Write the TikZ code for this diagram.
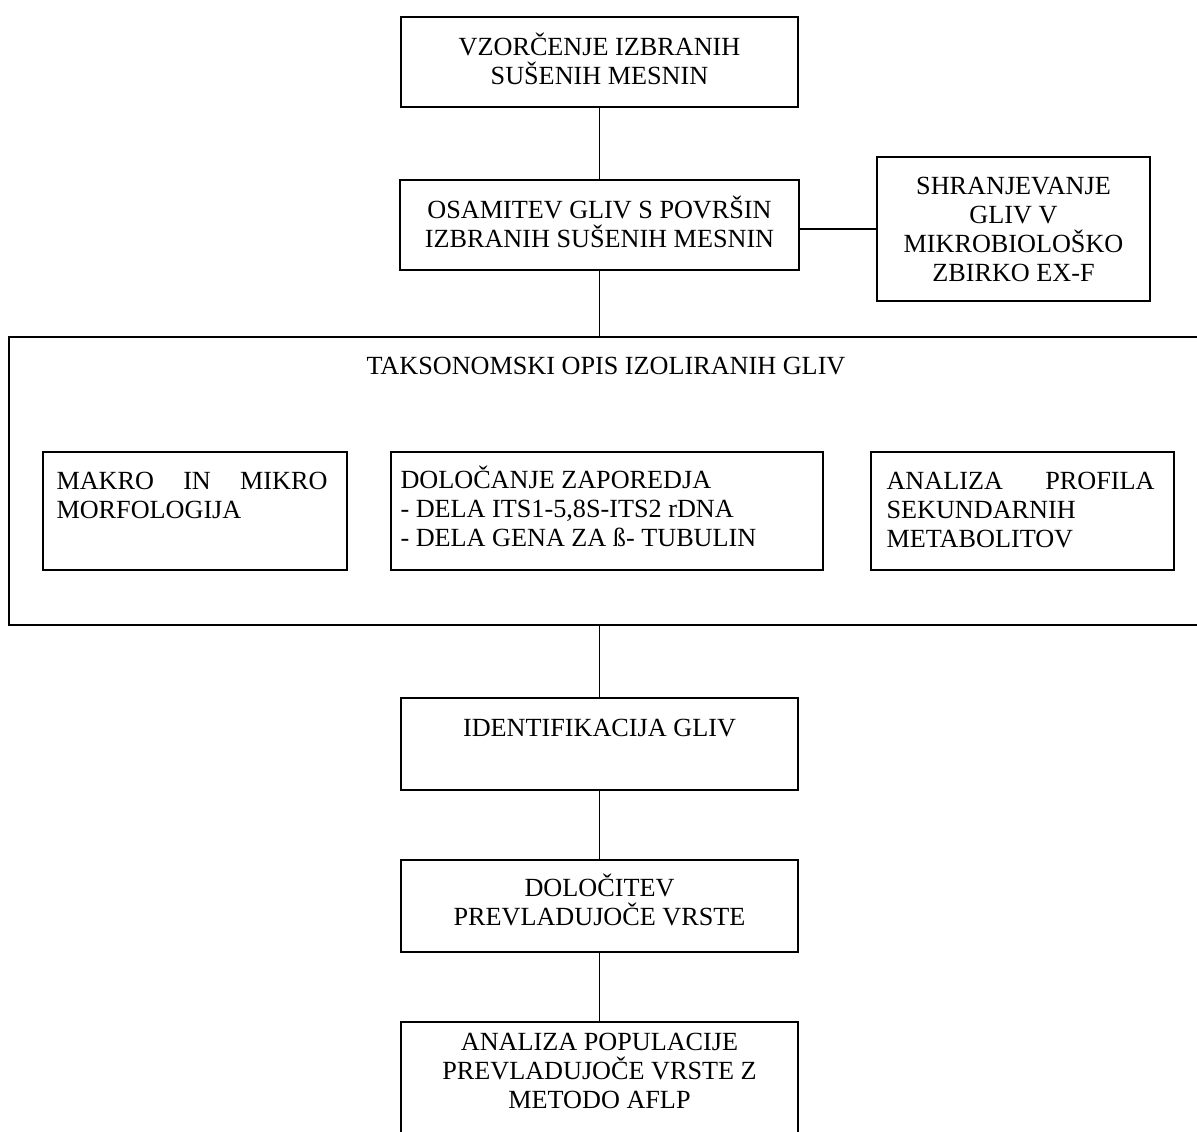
\documentclass[tikz,border=0pt]{standalone}
\usepackage{fontspec}
\setmainfont{Liberation Serif}
\usetikzlibrary{positioning}
\hyphenpenalty=10000

\begin{document}
\begin{tikzpicture}[x=0.5pt,y=-0.5pt,
  box/.style={draw, line width=0.9pt, inner sep=0pt},
  txt/.style={inner sep=0pt, font=\fontsize{13.1}{14.5}\selectfont, execute at begin node={\rule{0pt}{12pt}}}]
\useasboundingbox (0,0) rectangle (1197,1131);

%Shape: Rectangle [vzor]
\node[box, minimum width=198.5pt, minimum height=45pt] (vzor) at (599.5,62) {};
%Shape: Rectangle [osam]
\node[box, minimum width=199.5pt, minimum height=45pt] (osam) at (599.5,225) {};
%Shape: Rectangle [shran]
\node[box, minimum width=136.5pt, minimum height=72pt] (shran) at (1013.5,229) {};
%Shape: Rectangle [takso]
\node[box, minimum width=597pt, minimum height=144pt] (takso) at (606,481) {};
%Shape: Rectangle [makro]
\node[box, minimum width=152pt, minimum height=59pt] (makro) at (195,511) {};
%Shape: Rectangle [zapor]
\node[box, minimum width=216pt, minimum height=59pt] (zapor) at (607,511) {};
%Shape: Rectangle [profil]
\node[box, minimum width=151.5pt, minimum height=59pt] (profil) at (1022.5,511) {};
%Shape: Rectangle [ident]
\node[box, minimum width=198.5pt, minimum height=46pt] (ident) at (599.5,744) {};
%Shape: Rectangle [vrsta]
\node[box, minimum width=198.5pt, minimum height=46pt] (vrsta) at (599.5,906) {};
%Shape: Rectangle [popul]
\node[box, minimum width=198.5pt, minimum height=69pt] (popul) at (599.5,1091) {};

%Straight Lines
\draw[line width=0.9pt] (vzor) -- (osam);
\draw[line width=0.9pt] (osam) -- (osam |- takso.north);
\draw[line width=0.9pt] (shran.west) -- (shran.west -| osam.east);
\draw[line width=0.9pt] (ident |- takso.south) -- (ident);
\draw[line width=0.9pt] (ident) -- (vrsta);
\draw[line width=0.9pt] (vrsta) -- (popul);

% Text Node
\node[txt, align=center, below=8pt of vzor.north] (tvzor) {VZORČENJE IZBRANIH\\SUŠENIH MESNIN};
% Text Node
\node[txt, align=center, below=8pt of osam.north] (tosam) {OSAMITEV GLIV S POVRŠIN\\IZBRANIH SUŠENIH MESNIN};
% Text Node
\node[txt, align=center, below=10.5pt of shran.north] (tshran) {SHRANJEVANJE\\GLIV V\\MIKROBIOLOŠKO\\ZBIRKO EX-F};
% Text Node
\node[txt, align=center, below=7pt of takso.north] (ttakso) {TAKSONOMSKI OPIS IZOLIRANIH GLIV};
% Text Node
\node[txt, text width=135.5pt, align=justify, below right=7pt and 7pt of makro.north west] (tmakro) {MAKRO IN MIKRO MORFOLOGIJA};
% Text Node
\node[txt, align=left, below right=7pt and 5pt of zapor.north west] (tzapor) {DOLOČANJE ZAPOREDJA\\- DELA ITS1-5,8S-ITS2 rDNA\\- DELA GENA ZA ß- TUBULIN};
% Text Node
\node[txt, text width=134pt, align=justify, below right=7pt and 8pt of profil.north west] (tprofil) {ANALIZA PROFILA SEKUNDARNIH METABOLITOV};
% Text Node
\node[txt, align=center, below=7.5pt of ident.north] (tident) {IDENTIFIKACIJA GLIV};
% Text Node
\node[txt, align=center, below=7pt of vrsta.north] (tvrsta) {DOLOČITEV\\PREVLADUJOČE VRSTE};
% Text Node
\node[txt, align=center, below=6pt of popul.north] (tpopul) {ANALIZA POPULACIJE\\PREVLADUJOČE VRSTE Z\\METODO AFLP};

\end{tikzpicture}
\end{document}
